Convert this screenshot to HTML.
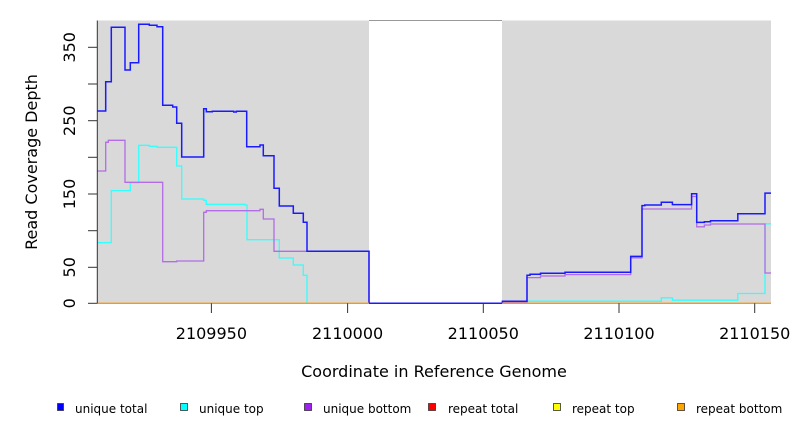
<!DOCTYPE html>
<html><head><meta charset="utf-8"><style>
html,body{margin:0;padding:0;background:#fff;}
svg{display:block;font-family:"DejaVu Sans","Liberation Sans",sans-serif;}
</style></head><body>
<svg width="792" height="432" viewBox="0 0 792 432" xmlns="http://www.w3.org/2000/svg">
<rect x="97.3" y="20.5" width="271.7" height="283" fill="#d9d9d9"/>
<rect x="502" y="20.5" width="269" height="283" fill="#d9d9d9"/>
<line x1="369" y1="20.5" x2="502" y2="20.5" stroke="#999" stroke-width="1"/>
<g fill="none" stroke-width="1.3">
<polyline stroke="#33ffff" points="97.3,242.7 111.3,242.7 111.3,190.7 130.3,190.7 130.3,182.7 138.7,182.7 138.7,145.3 149.3,145.3 149.3,146.3 157,146.3 157,147.3 176.7,147.3 176.7,166 181.7,166 181.7,199 203.7,199 203.7,200.3 206.3,200.3 206.3,204.3 245,204.3 245,205 247,205 247,239.7 279.3,239.7 279.3,258 293.3,258 293.3,265 303.3,265 303.3,275.3 307,275.3 307,303.3"/>
<polyline stroke="#33ffff" points="502.4,303.3 502.4,302 527,302 527,301.2 661.3,301.2 661.3,297.8 672.4,297.8 672.4,300.2 737.8,300.2 737.8,293.5 765,293.5 765,223.8 771,223.8"/>
<polyline stroke="#b36be6" points="97.3,171 105.7,171 105.7,142.3 108.3,142.3 108.3,140.3 125,140.3 125,182.3 162.7,182.3 162.7,261.7 176.7,261.7 176.7,261 203.7,261 203.7,212.3 206.3,212.3 206.3,210.7 260,210.7 260,209.3 263.3,209.3 263.3,219 274,219 274,251.3 369,251.3 369,303.3 502.4,303.3 502.4,302 527,302 527,277.6 540.5,277.6 540.5,276 565,276 565,274.6 630.7,274.6 630.7,257.8 642,257.8 642,209 691.6,209 691.6,196.5 696.7,196.5 696.7,226.8 704.4,226.8 704.4,225 710.5,225 710.5,224 765,224 765,273 771,273"/>
<polyline stroke="#1a1aff" stroke-width="1.5" points="97.3,111 105.7,111 105.7,81.7 111.3,81.7 111.3,27.3 125,27.3 125,70 130.3,70 130.3,62.7 138.7,62.7 138.7,24.3 149.3,24.3 149.3,25.3 157,25.3 157,26.7 162.7,26.7 162.7,105.3 172.7,105.3 172.7,107 176.7,107 176.7,123.3 181.7,123.3 181.7,157 203.7,157 203.7,108.7 206.3,108.7 206.3,111.7 212.3,111.7 212.3,111.3 233.7,111.3 233.7,112 236.3,112 236.3,111.3 246.7,111.3 246.7,146.7 260,146.7 260,145 263.3,145 263.3,155.7 274,155.7 274,188.3 279.3,188.3 279.3,206 293.3,206 293.3,213.3 303.3,213.3 303.3,222.3 307,222.3 307,251.3 369,251.3 369,303.3 502.4,303.3 502.4,301.3 527,301.3 527,275.3 530,275.3 530,274.3 540.5,274.3 540.5,273.3 565,273.3 565,272.3 630.7,272.3 630.7,256.4 642,256.4 642,205.6 644.8,205.6 644.8,205 661.3,205 661.3,202.2 672.4,202.2 672.4,204.6 691.6,204.6 691.6,193.8 696.7,193.8 696.7,222.4 704.4,222.4 704.4,221.8 710.5,221.8 710.5,220.7 737.8,220.7 737.8,213.7 765,213.7 765,193.1 771,193.1"/>
</g>
<line x1="97.3" y1="303.3" x2="369" y2="303.3" stroke="#ff9900" stroke-width="1.3"/>
<line x1="502" y1="303.3" x2="771" y2="303.3" stroke="#ff9900" stroke-width="1.3"/>
<g stroke="#333" stroke-width="1">
<line x1="97.3" y1="20.5" x2="97.3" y2="303.3"/>
<line x1="88" y1="47.3" x2="97.3" y2="47.3"/><line x1="88" y1="84" x2="97.3" y2="84"/>
<line x1="88" y1="120.7" x2="97.3" y2="120.7"/><line x1="88" y1="157.3" x2="97.3" y2="157.3"/>
<line x1="88" y1="194" x2="97.3" y2="194"/><line x1="88" y1="230.7" x2="97.3" y2="230.7"/>
<line x1="88" y1="267.3" x2="97.3" y2="267.3"/><line x1="88" y1="303.3" x2="97.3" y2="303.3"/>
<line x1="211.4" y1="303.3" x2="211.4" y2="313"/><line x1="347.6" y1="303.3" x2="347.6" y2="313"/>
<line x1="483.3" y1="303.3" x2="483.3" y2="313"/><line x1="619" y1="303.3" x2="619" y2="313"/>
<line x1="754.7" y1="303.3" x2="754.7" y2="313"/>
</g>
<g font-size="16" fill="#000" text-anchor="middle">
<text transform="translate(75,47.3) rotate(-90)">350</text>
<text transform="translate(75,120.7) rotate(-90)">250</text>
<text transform="translate(75,194) rotate(-90)">150</text>
<text transform="translate(75,267.3) rotate(-90)">50</text>
<text transform="translate(75,303.3) rotate(-90)">0</text>
<text x="211.4" y="339">2109950</text>
<text x="347.6" y="339">2110000</text>
<text x="483.3" y="339">2110050</text>
<text x="619" y="339">2110100</text>
<text x="754.7" y="339">2110150</text>
<text x="434" y="377">Coordinate in Reference Genome</text>
<text transform="translate(37,162) rotate(-90)">Read Coverage Depth</text>
</g>
<g font-size="12" fill="#000" stroke="#333" stroke-width="0.8">
<rect x="57.5" y="403.5" width="6" height="7" fill="#0000ff"/>
<rect x="180.5" y="403.5" width="7" height="7" fill="#00ffff"/>
<rect x="304.5" y="403.5" width="7" height="7" fill="#a020f0"/>
<rect x="428.5" y="403.5" width="7" height="7" fill="#ff0000"/>
<rect x="553.5" y="403.5" width="7" height="7" fill="#ffff00"/>
<rect x="677.5" y="403.5" width="7" height="7" fill="#ffa500"/>
</g>
<g font-size="12" fill="#000">
<text x="75" y="413">unique total</text>
<text x="199" y="413">unique top</text>
<text x="323" y="413">unique bottom</text>
<text x="448" y="413">repeat total</text>
<text x="572" y="413">repeat top</text>
<text x="696" y="413">repeat bottom</text>
</g>
</svg>
</body></html>
